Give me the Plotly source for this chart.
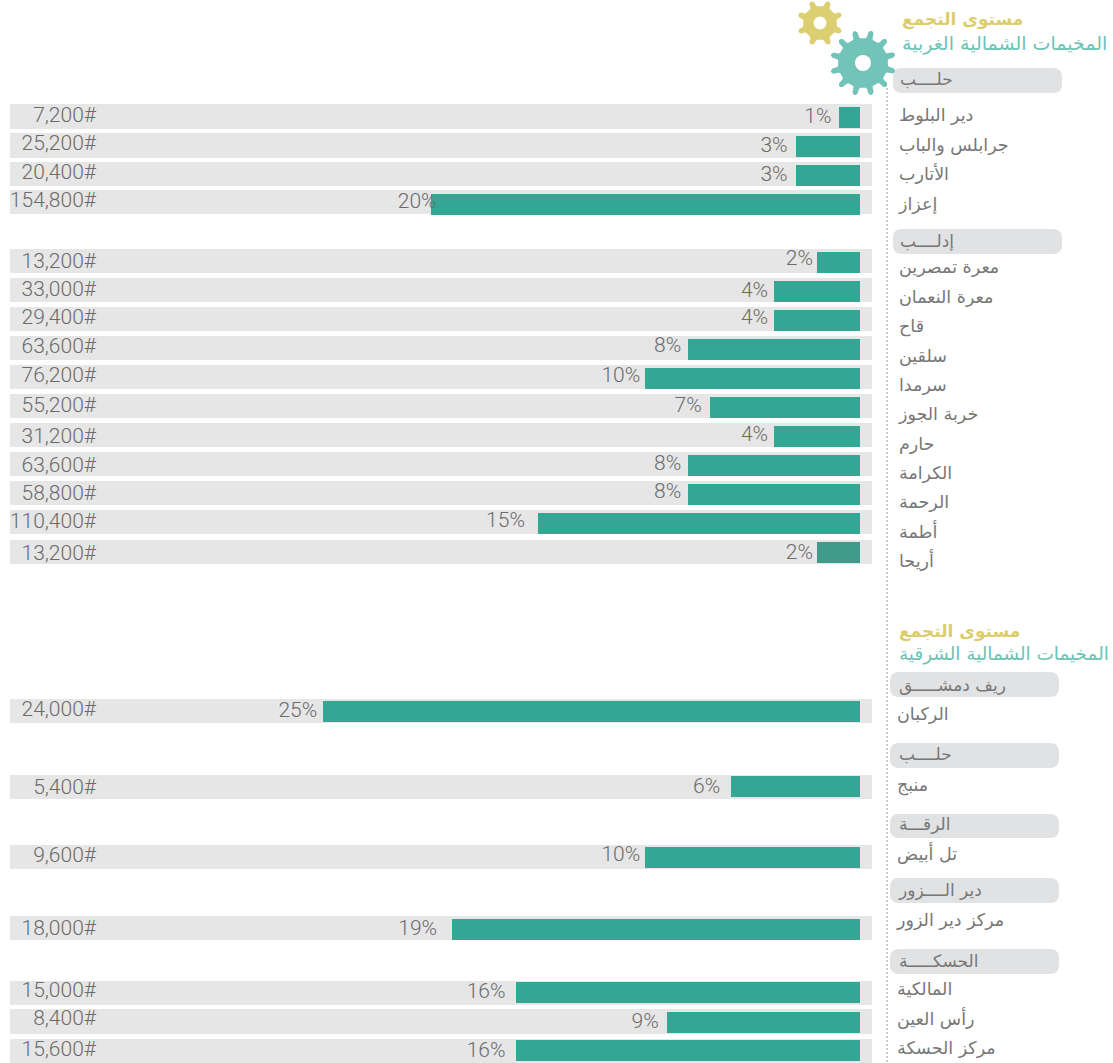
import math
import plotly.graph_objects as go

W, H = 1113, 1063
PX_PER_PCT = 21.47
ZERO_X = 860.0

camps = ["دير البلوط", "جرابلس والباب", "الأتارب", "إعزاز",
         "معرة تمصرين", "معرة النعمان", "قاح", "سلقين", "سرمدا", "خربة الجوز",
         "حارم", "الكرامة", "الرحمة", "أطمة", "أريحا",
         "الركبان", "منبج", "تل أبيض", "مركز دير الزور", "المالكية", "رأس العين", "مركز الحسكة"]
people = [7200, 25200, 20400, 154800,
          13200, 33000, 29400, 63600, 76200, 55200, 31200, 63600, 58800, 110400, 13200,
          24000, 5400, 9600, 18000, 15000, 8400, 15600]
percent = [1, 3, 3, 20,
           2, 4, 4, 8, 10, 7, 4, 8, 8, 15, 2,
           25, 6, 10, 19, 16, 9, 16]
governorates = ["حلــــب", "إدلــــب", "ريف دمشـــــق", "حلــــب", "الرقـــة", "دير الــــزور", "الحسكـــــة"]
titles = ["مستوى التجمع", "مستوى التجمع"]
subtitles = ["المخيمات الشمالية الغربية", "المخيمات الشمالية الشرقية"]

# layout, in page pixels
bar_y = [117.5, 146.5, 175, 204.5,
         262.5, 291.5, 320, 349, 378.5, 407, 436, 465, 494, 523, 552,
         711, 786, 857, 929, 992.5, 1022, 1050.5]
track_y = [116.7, 145.5, 174, 202,
           261, 290, 319, 348, 377, 406, 435, 464, 493, 522, 552,
           711, 787, 857, 928, 992.8, 1021.5, 1051]
num_y = [117, 145, 174, 202,
         263, 291, 319, 348, 377, 407, 438, 467, 495, 523, 555,
         711, 789, 857, 930, 992, 1020, 1051]
pct_y = [118, 147, 176, 203,
         260, 292, 319, 347, 377, 407, 436, 465, 493, 522, 554,
         712, 788, 856, 930, 993, 1023, 1052]
pct_gap = [7, 8, 8, -6,
           4, 6, 6, 7, 5, 8, 6, 7, 7, 13, 4,
           6, 11, 5, 15, 11, 8, 11]
name_x = [899] * 15 + [897] * 7
name_y = [117, 147, 176, 206,
          269, 299, 328, 358, 387, 416, 446, 475, 504, 534, 563,
          716, 787, 856, 922, 991, 1021, 1050]
bar_colors = ["#33a694"] * 14 + ["#419b8a"] + ["#33a694"] * 7

pill_boxes = [(893, 1062, 68, 93), (893, 1062, 229, 254), (890, 1059, 672, 697),
              (890, 1059, 743, 768), (890, 1059, 814, 838), (890, 1059, 878, 903), (890, 1059, 949, 974)]
gov_x = [900, 900, 899, 899, 899, 899, 899]
gov_y = [81, 243, 687, 756, 826, 892, 963]


def xd(px):
    return (ZERO_X - px) / PX_PER_PCT


fig = go.Figure()
track_l, track_r = xd(10), xd(872)
fig.add_bar(orientation="h", y=track_y, x=[track_l - track_r] * len(track_y), base=track_r,
            width=24.5, marker=dict(color="#e6e6e6", line_width=0), hoverinfo="skip")
fig.add_bar(orientation="h", y=bar_y, x=percent, base=0, width=21,
            marker=dict(color=bar_colors, line_width=0), hoverinfo="skip")

num_font = dict(family="Roboto", size=21, color="#6b6b6b", weight=300)
fig.add_scatter(x=[xd(96)] * len(people), y=num_y, mode="text",
                text=[f"{v:,}#" for v in people], textposition="middle left",
                textfont=num_font, hoverinfo="skip")
fig.add_scatter(x=[p + g / PX_PER_PCT for p, g in zip(percent, pct_gap)], y=pct_y, mode="text",
                text=[f"{p}%" for p in percent], textposition="middle left",
                textfont=num_font, hoverinfo="skip")

ar = "DejaVu Sans"
fig.add_scatter(x=[xd(v) for v in name_x], y=name_y, mode="text", text=camps,
                textposition="middle right",
                textfont=dict(family=ar, size=17.5, color="#777777"), hoverinfo="skip")
fig.add_scatter(x=[xd(v) for v in gov_x], y=gov_y, mode="text", text=governorates,
                textposition="middle right",
                textfont=dict(family=ar, size=17, color="#777777"), hoverinfo="skip")
fig.add_scatter(x=[xd(902), xd(899)], y=[21, 633], mode="text", text=titles,
                textposition="middle right",
                textfont=dict(family=ar, size=17, color="#dccd6c", weight="bold"), hoverinfo="skip")
fig.add_scatter(x=[xd(902), xd(899)], y=[45, 655], mode="text", text=subtitles,
                textposition="middle right",
                textfont=dict(family=ar, size=[19, 18.4], color="#6cc3b5"), hoverinfo="skip")


def pp(x, y):
    return f"{x / W:.5f},{1 - y / H:.5f}"


def pill_path(x0, x1, y0, y1, r=9):
    return (f"M{pp(x0+r, y0)} L{pp(x1-r, y0)} Q{pp(x1, y0)} {pp(x1, y0+r)} L{pp(x1, y1-r)} "
            f"Q{pp(x1, y1)} {pp(x1-r, y1)} L{pp(x0+r, y1)} Q{pp(x0, y1)} {pp(x0, y1-r)} "
            f"L{pp(x0, y0+r)} Q{pp(x0, y0)} {pp(x0+r, y0)} Z")


def gear_path(cx, cy, ro, ri, n, rot=0.0):
    s = 2 * math.pi / n
    at = lambda t, r: pp(cx + r * math.cos(t), cy + r * math.sin(t))
    parts = []
    for k in range(n):
        a = rot + k * s
        start = at(a - 0.30 * s, ri)
        parts.append(("M" if k == 0 else "L") + start)
        parts.append("Q" + at(a - 0.20 * s, ri) + " " + at(a - 0.17 * s, ro - 2))
        parts.append("Q" + at(a, ro + 2.5) + " " + at(a + 0.17 * s, ro - 2))
        parts.append("Q" + at(a + 0.20 * s, ri) + " " + at(a + 0.30 * s, ri))
    return " ".join(parts) + " Z"


shapes = [dict(type="line", xref="x", yref="y", x0=xd(887), x1=xd(887), y0=88, y1=H, layer="below",
               line=dict(color="#cccccc", width=2, dash="2px,2px"))]
for b in pill_boxes:
    shapes.append(dict(type="path", xref="paper", yref="paper", layer="below",
                       path=pill_path(*b), fillcolor="#e1e2e3", line_width=0))
for cx, cy, ro, ri, n, rot, hole, col in [(820, 23, 23, 17, 8, 0.39, 6.5, "#dccf72"),
                                          (863, 63, 33, 25, 12, 0.26, 8, "#73c4b8")]:
    shapes.append(dict(type="path", xref="paper", yref="paper", path=gear_path(cx, cy, ro, ri, n, rot),
                       fillcolor=col, line_width=0, layer="above"))
    shapes.append(dict(type="circle", xref="paper", yref="paper", x0=(cx - hole) / W, x1=(cx + hole) / W,
                       y0=1 - (cy + hole) / H, y1=1 - (cy - hole) / H, fillcolor="white", line_width=0,
                       layer="above"))

fig.update_layout(width=W, height=H, margin=dict(l=0, r=0, t=0, b=0), autosize=False,
                  paper_bgcolor="white", plot_bgcolor="white", showlegend=False, barmode="overlay",
                  shapes=shapes, bargap=0,
                  xaxis=dict(range=[xd(0), xd(W)], visible=False, fixedrange=True),
                  yaxis=dict(range=[H, 0], visible=False, fixedrange=True))
fig.write_html("out.html", config=dict(displayModeBar=False),
               post_script="document.body.style.margin='0';")
